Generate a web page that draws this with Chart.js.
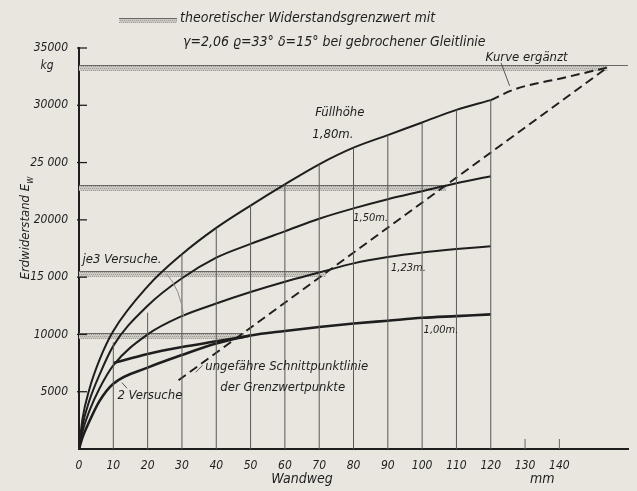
<!DOCTYPE html>
<html>
<head>
<meta charset="utf-8">
<script src="https://cdn.jsdelivr.net/npm/chart.js@4.4.1/dist/chart.umd.min.js"></script>
<style>
  html, body { margin: 0; padding: 0; background: #e9e6df; }
  #wrap { width: 637px; height: 491px; }
</style>
</head>
<body>
<div id="wrap"><canvas id="chart" width="637" height="491"></canvas></div>
<script>
// Wandweg (mm) and Erdwiderstand (kg) per Fuellhoehe
const wandweg = [0, 1, 3, 6, 10, 20, 30, 40, 50, 60, 70, 80, 90, 100, 110, 120];
const hoehe180 = [0, 2600, 5200, 7800, 10300, 14200, 17000, 19300, 21250, 23100, 24850, 26300, 27400, 28500, 29600, 30450];
const hoehe150 = [0, 2000, 4200, 6500, 9000, 12500, 14900, 16700, 17900, 19000, 20100, 21000, 21800, 22500, 23200, 23800];
const hoehe123 = [0, 1500, 3300, 5300, 7300, 10000, 11600, 12700, 13700, 14600, 15400, 16200, 16750, 17150, 17450, 17700];
const hoehe100 = [0, 1000, 2400, 4200, 5700, 7100, 8200, 9200, 9900, 10300, 10650, 10950, 11200, 11450, 11600, 11750];

// second trial of the 1,00 m curve
const versuchX = [10, 20, 30, 40, 50];
const versuch100 = [7500, 8300, 8900, 9400, 9900];

// dashed parts
const ergaenztX = [120, 127, 142, 154];
const ergaenztY = [30450, 31400, 32450, 33300];
const schnittX = [29, 154];
const schnittY = [6000, 33300];

// vertical measuring lines
const gridX = [10, 20, 30, 40, 50, 60, 70, 80, 90, 100, 110, 120];
const gridTop = [9300, 11900, 17000, 19300, 21250, 23100, 24850, 26300, 27400, 28500, 29600, 30450];

// theoretical limit values
const grenzwert = [33500, 23000, 15500, 10100];
const grenzwertEnde = [154, 107, 72, 48];

// tick labels
const xTickLabels = ['0', '10', '20', '30', '40', '50', '60', '70', '80', '90', '100', '110', '120', '130', '140'];
const yTickLabels = ['', '5000', '10000', '15 000', '20000', '25 000', '30000', '35000'];

const FONT = '"DejaVu Sans Condensed", "Liberation Sans Narrow", "DejaVu Sans", sans-serif';
const INK = '#1e1e1e';

function pts(xs, ys) {
  return xs.map((x, i) => ({x: x, y: ys[i]}));
}

function hatch() {
  const c = document.createElement('canvas');
  c.width = 4; c.height = 4;
  const g = c.getContext('2d');
  g.fillStyle = '#cdcac3';
  g.fillRect(0, 0, 4, 4);
  g.fillStyle = '#9d9a94';
  for (let i = 0; i < 4; i++) g.fillRect(i, (i * 2) % 4, 1, 1);
  return g.createPattern(c, 'repeat');
}

const bgPlugin = {
  id: 'bg',
  beforeDraw(chart) {
    const ctx = chart.ctx;
    ctx.save();
    ctx.fillStyle = '#e9e6df';
    ctx.fillRect(0, 0, chart.width, chart.height);
    ctx.restore();
  }
};

const grenzPlugin = {
  id: 'grenz',
  beforeDatasetsDraw(chart) {
    const ctx = chart.ctx, xs = chart.scales.x, ys = chart.scales.y;
    const pat = hatch();
    ctx.save();
    grenzwert.forEach((v, i) => {
      const y = Math.round(ys.getPixelForValue(v));
      const x0 = xs.getPixelForValue(0);
      const x1 = xs.getPixelForValue(grenzwertEnde[i]);
      ctx.fillStyle = pat;
      ctx.fillRect(x0, y + 1, x1 - x0, 5);
      ctx.strokeStyle = '#6a6864';
      ctx.lineWidth = 1.2;
      ctx.beginPath();
      ctx.moveTo(x0, y + 0.5);
      ctx.lineTo(i === 0 ? xs.right : x1, y + 0.5);
      ctx.stroke();
    });
    ctx.restore();
  }
};

const textPlugin = {
  id: 'texte',
  afterDraw(chart) {
    const ctx = chart.ctx, xs = chart.scales.x, ys = chart.scales.y;
    const X = v => xs.getPixelForValue(v), Y = v => ys.getPixelForValue(v);
    ctx.save();
    ctx.fillStyle = INK;
    ctx.strokeStyle = INK;

    // inner tick marks on the axes
    ctx.lineWidth = 1.3;
    ys.ticks.forEach(t => {
      if (t.value === 0) return;
      const y = Y(t.value);
      ctx.beginPath(); ctx.moveTo(xs.left - 2, y); ctx.lineTo(xs.left + 8, y); ctx.stroke();
    });
    ctx.strokeStyle = '#666';
    ctx.lineWidth = 1;
    xs.ticks.forEach(t => {
      if (t.value <= 120 || t.value > 140) return;
      const x = X(t.value);
      ctx.beginPath(); ctx.moveTo(x, ys.bottom); ctx.lineTo(x, ys.bottom - 10); ctx.stroke();
    });

    // header
    const pat = hatch();
    ctx.fillStyle = pat;
    ctx.fillRect(119, 19, 58, 4);
    ctx.strokeStyle = '#6a6864';
    ctx.beginPath(); ctx.moveTo(119, 18.5); ctx.lineTo(177, 18.5); ctx.stroke();
    ctx.fillStyle = INK;
    ctx.font = 'italic 14px ' + FONT;
    ctx.textBaseline = 'middle';
    ctx.textAlign = 'left';
    ctx.fillText('theoretischer Widerstandsgrenzwert mit', 180, 18);
    ctx.fillText('\u03B3=2,06 \u03F1=33\u00B0 \u03B4=15\u00B0 bei gebrochener Gleitlinie', 183, 42);

    // unit labels
    ctx.font = 'italic 12px ' + FONT;
    ctx.textAlign = 'center';
    ctx.fillText('kg', xs.left - 32, Y(35000) + 18);
    ctx.font = 'italic 14px ' + FONT;
    ctx.fillText('Wandweg', X(65), 479);
    ctx.fillText('mm', X(135), 479);

    // y axis title with subscript
    ctx.save();
    ctx.translate(26, 228);
    ctx.rotate(-Math.PI / 2);
    ctx.font = 'italic 13px ' + FONT;
    ctx.textAlign = 'left';
    const t1 = 'Erdwiderstand E';
    const w1 = ctx.measureText(t1).width;
    ctx.font = 'italic 10px ' + FONT;
    const w2 = ctx.measureText('w').width;
    const start = -(w1 + w2) / 2;
    ctx.font = 'italic 13px ' + FONT;
    ctx.fillText(t1, start, 0);
    ctx.font = 'italic 10px ' + FONT;
    ctx.fillText('w', start + w1, 4);
    ctx.restore();

    // curve labels
    ctx.font = 'italic 13px ' + FONT;
    ctx.textAlign = 'center';
    ctx.fillText('F\u00FCllh\u00F6he', X(76), Y(29400));
    ctx.fillText('1,80m.', X(74), Y(27400));
    ctx.font = 'italic 11px ' + FONT;
    ctx.fillText('1,50m.', X(85), Y(20150));
    ctx.fillText('1,23m.', X(96), Y(15800));
    ctx.fillText('1,00m.', X(105.5), Y(10400));

    ctx.font = 'italic 13px ' + FONT;
    ctx.textAlign = 'left';
    ctx.fillText('je3 Versuche.', X(1), Y(16500));
    ctx.fillText('2 Versuche', X(11.2), Y(4700));
    ctx.fillText('ungef\u00E4hre Schnittpunktlinie', X(36.8), Y(7150));
    ctx.fillText('der Grenzwertpunkte', X(41.2), Y(5400));
    ctx.font = 'italic 13px ' + FONT;
    ctx.fillText('Kurve erg\u00E4nzt', X(118.5), Y(34200));

    // leaders
    ctx.strokeStyle = '#555';
    ctx.lineWidth = 1;
    ctx.beginPath(); ctx.moveTo(X(123), Y(33700)); ctx.lineTo(X(125.5), Y(31700)); ctx.stroke();
    ctx.beginPath(); ctx.moveTo(X(36), Y(7300)); ctx.lineTo(X(34), Y(6700)); ctx.stroke();
    ctx.beginPath(); ctx.moveTo(X(14), Y(5300)); ctx.lineTo(X(12.5), Y(5800)); ctx.stroke();
    ctx.strokeStyle = '#8e8c87';
    ctx.beginPath();
    ctx.moveTo(X(25.5), Y(15300));
    ctx.quadraticCurveTo(X(29.5), Y(14000), X(30.5), Y(11600));
    ctx.stroke();
    ctx.restore();
  }
};

const datasets = [];
gridX.forEach((x, i) => {
  datasets.push({
    data: [{x: x, y: 0}, {x: x, y: gridTop[i]}],
    borderColor: '#5a5955', borderWidth: 1, pointRadius: 0
  });
});
[hoehe180, hoehe150, hoehe123].forEach(vals => {
  datasets.push({
    data: pts(wandweg, vals),
    borderColor: INK, borderWidth: 2, pointRadius: 0,
    cubicInterpolationMode: 'monotone'
  });
});
datasets.push({
  data: pts(wandweg, hoehe100),
  borderColor: INK, borderWidth: 2.6, pointRadius: 0,
  cubicInterpolationMode: 'monotone'
});
datasets.push({
  data: pts(versuchX, versuch100),
  borderColor: INK, borderWidth: 2.6, pointRadius: 0,
  cubicInterpolationMode: 'monotone'
});
datasets.push({
  data: pts(ergaenztX, ergaenztY),
  borderColor: INK, borderWidth: 2, borderDash: [9, 5], pointRadius: 0,
  cubicInterpolationMode: 'monotone'
});
datasets.push({
  data: pts(schnittX, schnittY),
  borderColor: INK, borderWidth: 2, borderDash: [9, 5], pointRadius: 0
});

new Chart(document.getElementById('chart'), {
  type: 'line',
  data: {datasets: datasets},
  options: {
    responsive: false,
    devicePixelRatio: 1,
    animation: false,
    layout: {padding: {top: 48, right: 9, left: 0, bottom: 0}},
    plugins: {legend: {display: false}, tooltip: {enabled: false}},
    scales: {
      x: {
        type: 'linear', min: 0, max: 160,
        afterFit(s) { s.height = 42; },
        grid: {display: false},
        border: {color: INK, width: 2},
        ticks: {
          stepSize: 10, autoSkip: false, maxRotation: 0, padding: 2,
          color: INK, font: {family: FONT, style: 'italic', size: 12},
          callback: (v) => xTickLabels[v / 10] !== undefined ? xTickLabels[v / 10] : ''
        }
      },
      y: {
        min: 0, max: 35000,
        afterFit(s) { s.width = 79; },
        grid: {display: false},
        border: {color: INK, width: 2},
        ticks: {
          stepSize: 5000, padding: 3,
          color: INK, font: {family: FONT, style: 'italic', size: 12},
          callback: (v) => yTickLabels[v / 5000]
        }
      }
    }
  },
  plugins: [bgPlugin, grenzPlugin, textPlugin]
});
</script>
</body>
</html>
